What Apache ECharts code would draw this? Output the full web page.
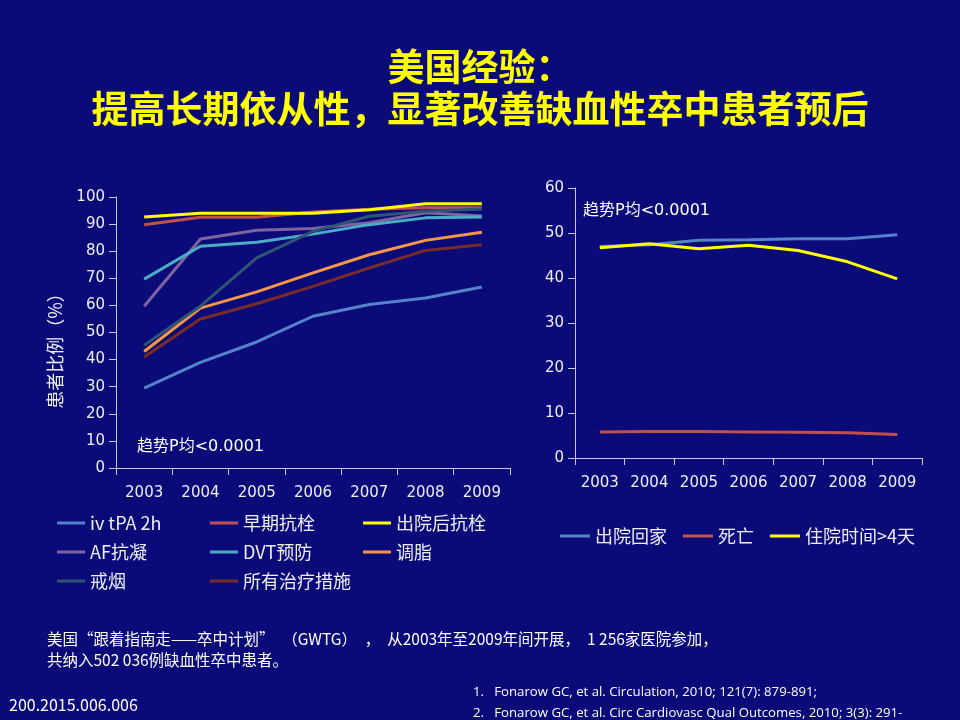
<!DOCTYPE html>
<html lang="zh">
  <head>
    <meta charset="UTF-8" />
    <title>美国经验</title>
    <style>
      html, body { margin: 0; padding: 0; background: #0a0a78; }
      #main { width: 960px; height: 720px; }
    </style>
  </head>
  <body>
    <div id="main"></div>
    <script src="https://cdn.jsdelivr.net/npm/echarts@6/dist/echarts.min.js"></script>
    <script>
      // 年份
      var years = ["2003", "2004", "2005", "2006", "2007", "2008", "2009"];

      // 左图：各项治疗措施依从性（%）
      var ivTpa = [29.5, 39, 46.5, 56, 60.3, 62.7, 66.8];
      var zaoqiKangshuan = [89.8, 92.5, 92.5, 94.5, 95.5, 96, 96];
      var chuyuanKangshuan = [92.6, 94, 94, 94, 95.3, 97.5, 97.5];
      var afKangning = [59.7, 84.5, 87.7, 88.4, 90.5, 94.2, 93];
      var dvtYufang = [69.7, 81.8, 83.3, 86.3, 89.8, 92.3, 92.6];
      var tiaozhi = [43, 59, 65, 72, 78.7, 84, 87];
      var jieyan = [45.3, 59.7, 77.5, 87.3, 92.9, 94.7, 95.6];
      var suoyou = [41, 55, 60.6, 67, 73.8, 80.3, 82.4];

      // 右图：结局
      var chuyuanHuijia = [47, 47.4, 48.4, 48.5, 48.7, 48.7, 49.6];
      var siwang = [5.8, 5.9, 5.9, 5.8, 5.7, 5.6, 5.2];
      var zhuyuan4 = [46.7, 47.6, 46.5, 47.3, 46.1, 43.6, 39.8];

      var leftNames = ["iv tPA 2h", "早期抗栓", "出院后抗栓", "AF抗凝", "DVT预防", "调脂", "戒烟", "所有治疗措施"];
      var leftData = [ivTpa, zaoqiKangshuan, chuyuanKangshuan, afKangning, dvtYufang, tiaozhi, jieyan, suoyou];
      var leftColors = ["#5583c9", "#c0504d", "#ffff00", "#8064a2", "#4bacc6", "#f79646", "#2f5573", "#772c2a"];

      var rightNames = ["出院回家", "死亡", "住院时间>4天"];
      var rightData = [chuyuanHuijia, siwang, zhuyuan4];
      var rightColors = ["#5583c9", "#c0504d", "#ffff00"];

      var font = "DejaVu Sans, Noto Sans CJK SC, sans-serif";
      var cjk = "Noto Sans CJK SC, sans-serif";
      var txt = "#eeeef6";

      var myChart = echarts.init(document.getElementById("main"));

      var series = [];
      leftNames.forEach(function (n, i) {
        series.push({
          name: n, type: "line", xAxisIndex: 0, yAxisIndex: 0,
          data: leftData[i], symbol: "none",
          lineStyle: { width: 3, color: leftColors[i] },
          itemStyle: { color: leftColors[i] },
        });
      });
      rightNames.forEach(function (n, i) {
        series.push({
          name: n, type: "line", xAxisIndex: 1, yAxisIndex: 1,
          data: rightData[i], symbol: "none",
          lineStyle: { width: 3, color: rightColors[i] },
          itemStyle: { color: rightColors[i] },
        });
      });

      function legendCol(names, left, top) {
        return {
          data: names, orient: "vertical", left: left, top: top, padding: 0,
          icon: "rect", itemWidth: 28, itemHeight: 3, itemGap: 9,
          textStyle: { color: txt, fontSize: 18, fontFamily: cjk, lineHeight: 20 },
          selectedMode: false,
        };
      }

      var catAxis = function (gi) {
        return {
          type: "category", gridIndex: gi, data: years, boundaryGap: true,
          axisLine: { lineStyle: { color: "#c8c8e0", width: 1 } },
          axisTick: { show: true, length: 7, interval: 0, lineStyle: { color: "#c8c8e0" } },
          axisLabel: { color: txt, fontSize: 15, fontFamily: font, interval: 0, margin: 18 },
        };
      };
      var valAxis = function (gi, max, name) {
        return {
          type: "value", gridIndex: gi, min: 0, max: max, interval: 10,
          name: name, nameLocation: "middle", nameGap: 52, nameRotate: 90,
          nameTextStyle: { color: txt, fontSize: 18, fontFamily: cjk, padding: [0, 28, 0, 0] },
          axisLine: { show: true, lineStyle: { color: "#c8c8e0", width: 1 } },
          axisTick: { show: true, length: 7, lineStyle: { color: "#c8c8e0" } },
          axisLabel: { color: txt, fontSize: 15, fontFamily: font, margin: 11 },
          splitLine: { show: false },
        };
      };

      function plain(text, left, top, size, family, lh) {
        return {
          text: text, left: left, top: top, padding: 0,
          textStyle: { color: "#ffffff", fontSize: size, fontWeight: "normal", fontFamily: family, lineHeight: lh },
        };
      }

      var option = {
        backgroundColor: "#0a0a78",
        animation: false,
        title: [
          {
            text: "美国经验：", left: "center", top: 48, padding: 0,
            textStyle: { color: "#ffff00", fontSize: 37, fontWeight: "bold", fontFamily: cjk },
          },
          {
            text: "提高长期依从性，显著改善缺血性卒中患者预后", left: "center", top: 90, padding: 0,
            textStyle: { color: "#ffff00", fontSize: 37, fontWeight: "bold", fontFamily: cjk },
          },
          plain("趋势P均<0.0001", 137, 437, 16, font, 20),
          plain("趋势P均<0.0001", 583, 201, 16, font, 20),
          plain("美国“跟着指南走——卒中计划”　（GWTG）　，  从2003年至2009年间开展，  1 256家医院参加，\n共纳入502 036例缺血性卒中患者。",
            47, 629, 15.5, cjk, 21),
          plain("200.2015.006.006", 9, 695, 16, cjk, 20),
          plain("1.   Fonarow GC, et al. Circulation, 2010; 121(7): 879-891;\n2.   Fonarow GC, et al. Circ Cardiovasc Qual Outcomes, 2010; 3(3): 291-",
            473, 682, 13.2, "Open Sans, sans-serif", 21),
        ],
        legend: [
          legendCol(["iv tPA 2h", "AF抗凝", "戒烟"], 57, 513),
          legendCol(["早期抗栓", "DVT预防", "所有治疗措施"], 210, 513),
          legendCol(["出院后抗栓", "调脂"], 363, 513),
          {
            data: rightNames, orient: "horizontal", left: 560, top: 526, padding: 0,
            icon: "rect", itemWidth: 30, itemHeight: 3, itemGap: 16,
            textStyle: { color: txt, fontSize: 18, fontFamily: cjk, lineHeight: 20 },
            selectedMode: false,
          },
        ],
        grid: [
          { left: 116, top: 197, width: 394, height: 271 },
          { left: 575, top: 188, width: 347, height: 270 },
        ],
        xAxis: [catAxis(0), catAxis(1)],
        yAxis: [valAxis(0, 100, "患者比例（%）"), valAxis(1, 60, "")],
        series: series,
      };

      myChart.setOption(option);
    </script>
  </body>
</html>
